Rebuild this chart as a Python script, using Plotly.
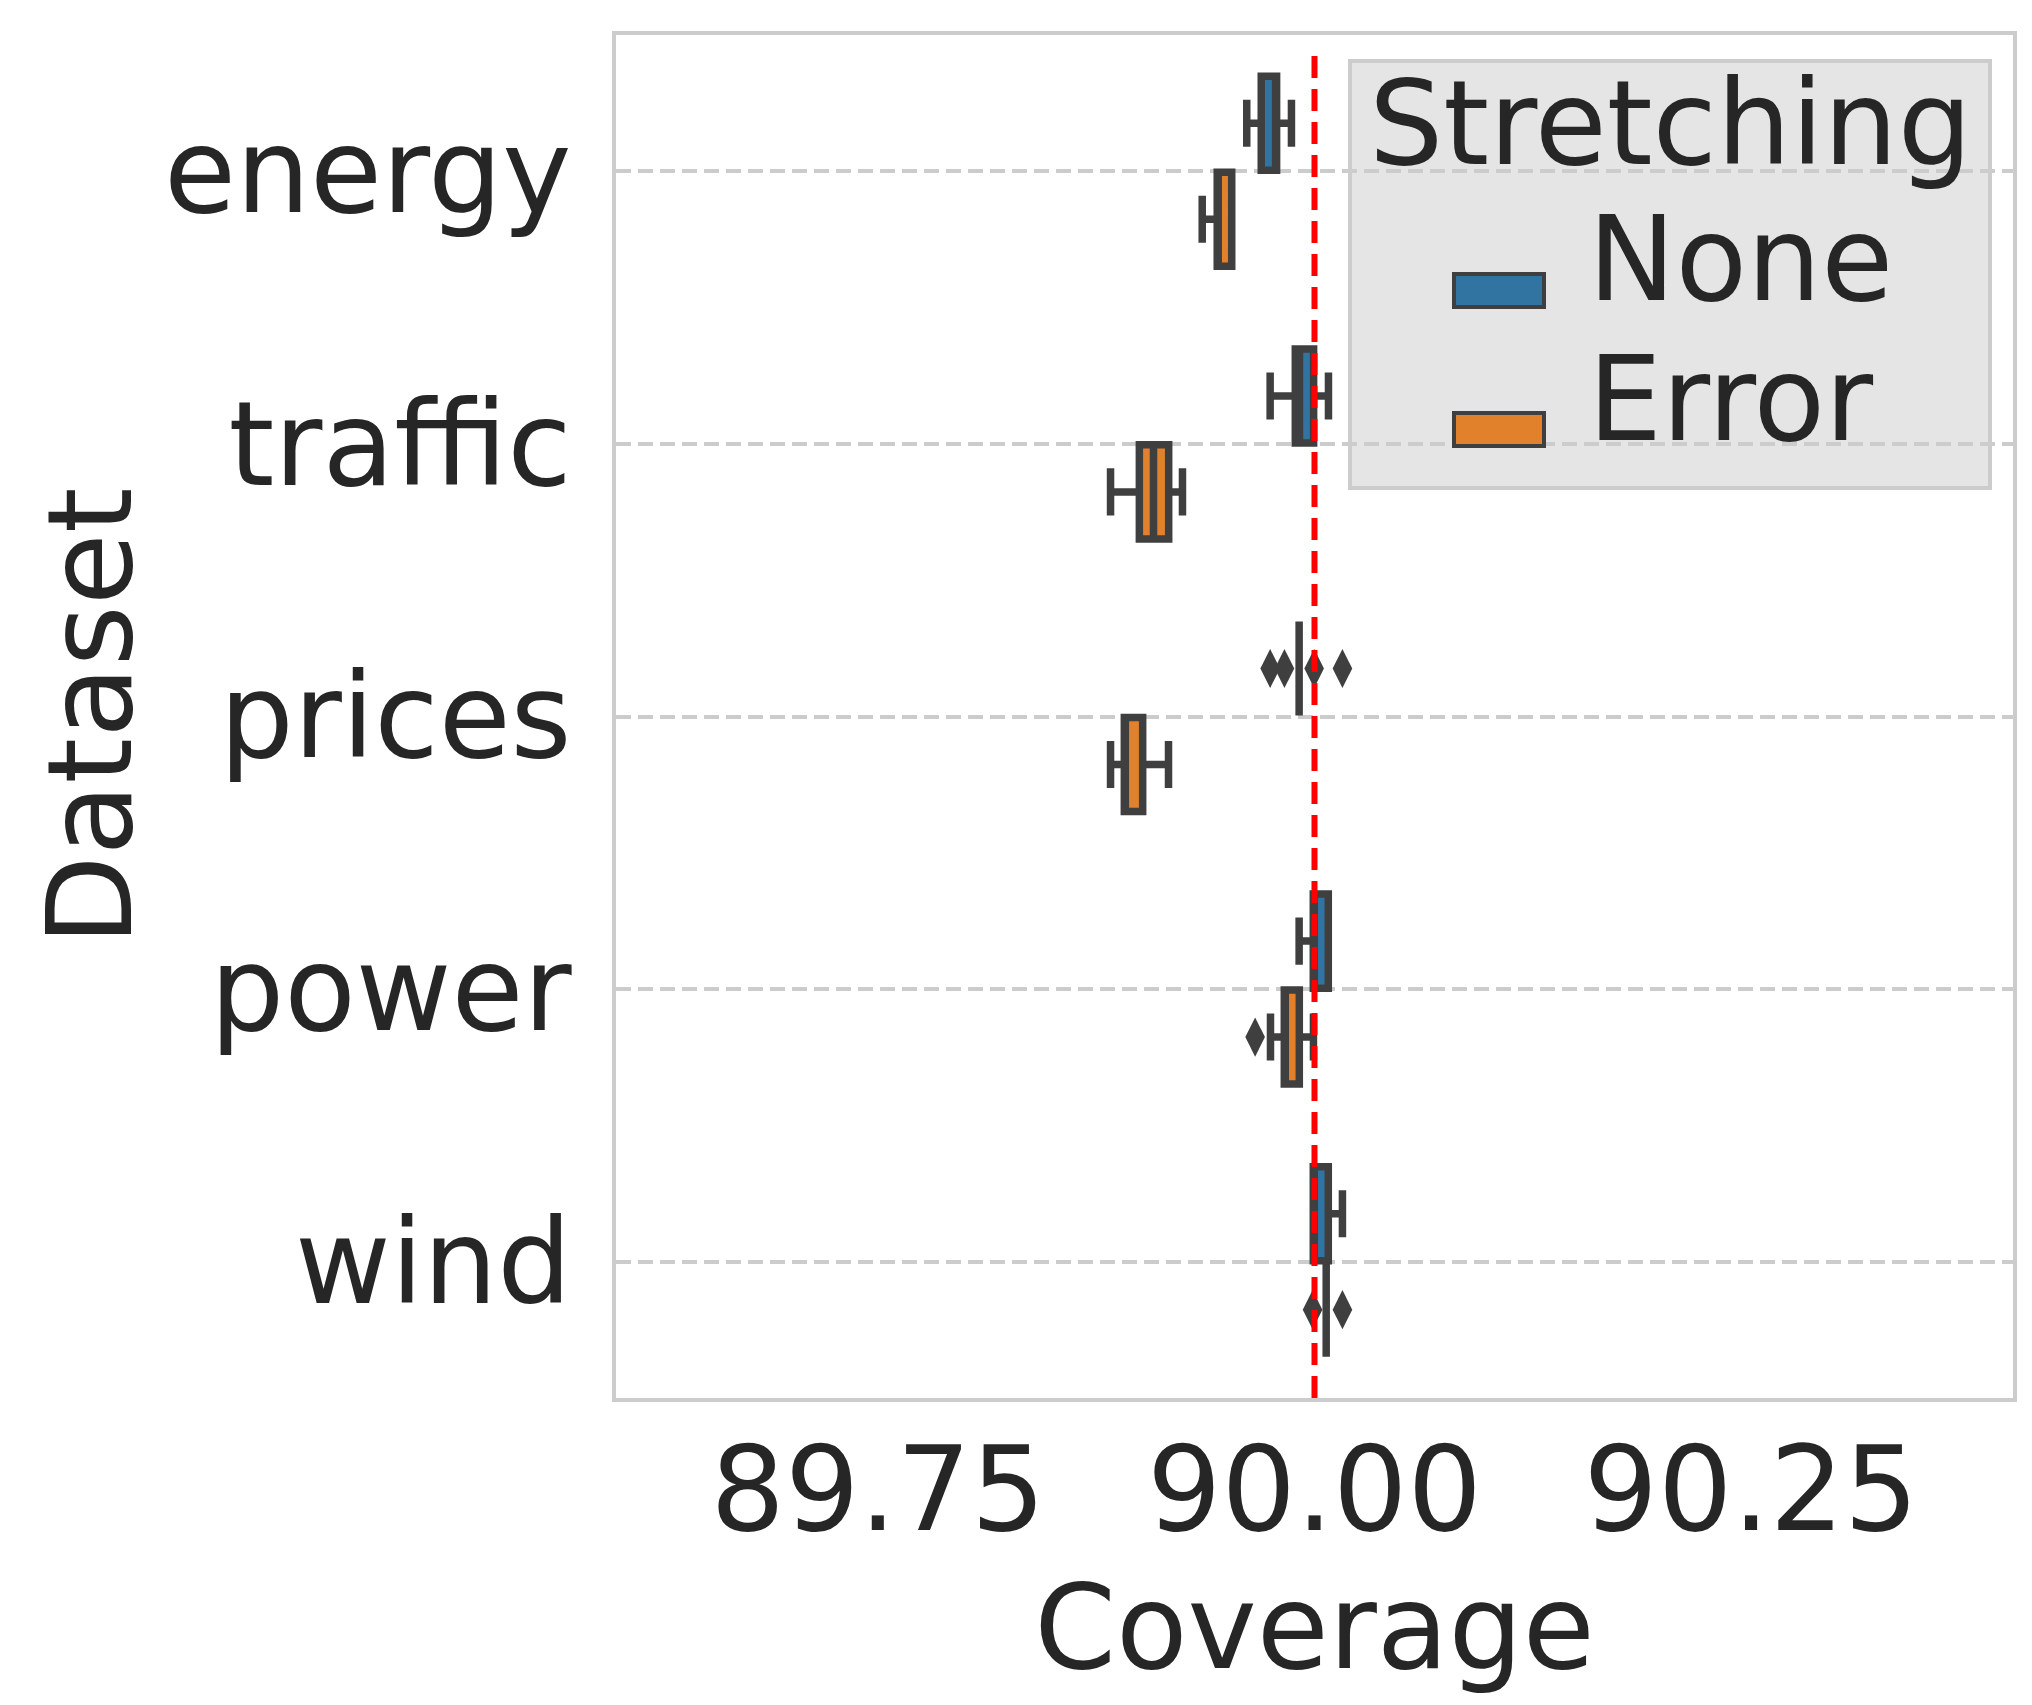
import plotly.graph_objects as go

# categories and hue levels
datasets = ["energy", "traffic", "prices", "power", "wind"]
hues = ["None", "Error"]

# box statistics (coverage, %)
none_q1 = [89.9695, 89.9890, 89.9912, 89.9993, 89.9993]
none_med = [89.9783, 89.9914, 89.9912, 89.9993, 89.9993]
none_q3 = [89.9783, 89.9995, 89.9912, 90.0079, 90.0079]
none_lo = [89.9612, 89.9746, 89.9912, 89.9912, 89.9993]
none_hi = [89.9868, 90.0080, 89.9912, 90.0079, 90.0160]
none_out = [[], [], [89.9746, 89.9828, 89.9998, 90.0160], [], []]

error_q1 = [89.9443, 89.8997, 89.8911, 89.9827, 90.0067]
error_med = [89.9443, 89.9078, 89.8911, 89.9827, 90.0067]
error_q3 = [89.9526, 89.9165, 89.9016, 89.9913, 90.0067]
error_lo = [89.9357, 89.8832, 89.8832, 89.9748, 90.0067]
error_hi = [89.9526, 89.9244, 89.9164, 89.9994, 90.0067]
error_out = [[], [], [], [89.9660], [89.9989, 90.0160]]

target = 90.0

stats = {
    "None": (none_q1, none_med, none_q3, none_lo, none_hi, none_out),
    "Error": (error_q1, error_med, error_q3, error_lo, error_hi, error_out),
}
colors = {"None": "#3274a1", "Error": "#e1812c"}
offsets = {"None": -0.176, "Error": 0.176}

TEXT = "#262626"
EDGE = "#3f3f3f"
FONT = "DejaVu Sans"
FS = 117

W, H = 2032, 1705
L, R, T, B = 608, 2005, 27, 1390

fig = go.Figure()

for hue in hues:
    q1, med, q3, lo, hi, out = stats[hue]
    pos = [i + offsets[hue] for i in range(len(datasets))]
    fig.add_trace(go.Box(
        y=pos, q1=q1, median=med, q3=q3, lowerfence=lo, upperfence=hi,
        orientation="h", width=0.345, whiskerwidth=0.5,
        fillcolor=colors[hue], line=dict(color=EDGE, width=7.5),
        boxpoints=False, name=hue, showlegend=False,
    ))
    ox, oy = [], []
    for i, vals in enumerate(out):
        for v in vals:
            ox.append(v)
            oy.append(i + offsets[hue])
    fig.add_trace(go.Scatter(
        x=ox, y=oy, mode="markers", showlegend=False,
        marker=dict(symbol="diamond-tall", size=28, color=EDGE),
    ))

# target coverage line
fig.add_shape(type="line", xref="x", yref="paper", x0=target, x1=target,
              y0=0, y1=0.99, line=dict(color="red", width=6, dash="22px,11px"))


def px_x(p):
    return (p - L) / (R - L)


def px_y(p):
    return (B - p) / (B - T)


# legend drawn by hand so its swatches match the original size
fig.add_shape(type="rect", xref="paper", yref="paper", layer="below",
              x0=px_x(1342), x1=px_x(1982), y0=px_y(480), y1=px_y(53),
              fillcolor="#e5e5e5", line=dict(color="#cccccc", width=4))
fig.add_annotation(xref="paper", yref="paper", x=px_x(1662), y=px_y(115),
                   text="Stretching", showarrow=False, xanchor="center",
                   yanchor="middle", font=dict(size=FS, color=TEXT, family=FONT))
for hue, base in zip(hues, [299, 438]):
    fig.add_shape(type="rect", xref="paper", yref="paper",
                  x0=px_x(1446), x1=px_x(1536), y0=px_y(base), y1=px_y(base - 33),
                  fillcolor=colors[hue], line=dict(color=EDGE, width=4))
    fig.add_annotation(xref="paper", yref="paper", x=px_x(1578), y=px_y(base - 47),
                       text=hue, showarrow=False, xanchor="left", yanchor="middle",
                       font=dict(size=FS, color=TEXT, family=FONT))

# y axis title
fig.add_annotation(xref="paper", yref="paper", x=px_x(82), y=0.5,
                   text="Dataset", textangle=-90, showarrow=False,
                   xanchor="center", yanchor="middle",
                   font=dict(size=FS, color=TEXT, family=FONT))

fig.update_layout(
    width=W, height=H,
    margin=dict(l=L, r=W - R, t=T, b=H - B, autoexpand=False),
    paper_bgcolor="white", plot_bgcolor="white",
    font=dict(family=FONT, size=FS, color=TEXT),
    showlegend=False,
)
fig.update_xaxes(
    range=[89.6, 90.4], tickvals=[89.75, 90.0, 90.25], ticktext=["89.75", "90.00", "90.25"],
    showgrid=False, zeroline=False, showline=True, mirror=True, automargin=False,
    linecolor="#cccccc", linewidth=4, ticks="", ticklabelstandoff=-12,
    title=dict(text="Coverage", standoff=30, font=dict(size=FS)),
)
fig.update_yaxes(
    range=[len(datasets) - 0.5, -0.5], tickvals=list(range(len(datasets))), ticktext=datasets,
    showgrid=True, gridcolor="#cccccc", gridwidth=3.5, griddash="15px,7px",
    zeroline=False, showline=True, mirror=True, automargin=False,
    linecolor="#cccccc", linewidth=4, ticks="", ticklabelstandoff=17,
)

fig.write_html("out.html")
